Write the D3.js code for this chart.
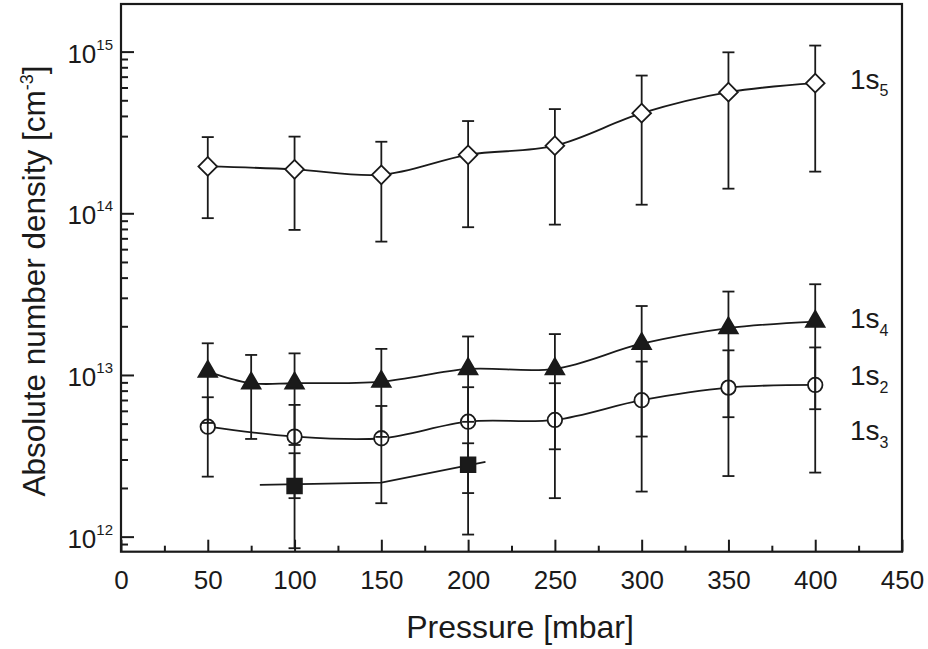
<!DOCTYPE html>
<html>
<head>
<meta charset="utf-8">
<script src="https://cdn.jsdelivr.net/npm/d3@7"></script>
<style>
  body { margin: 0; background: #fff; }
  svg { display: block; }
  text { font-family: "Liberation Sans", Arial, Helvetica, sans-serif; fill: #1a1a1a; }
</style>
</head>
<body>
<svg id="chart" width="928" height="649"></svg>
<script>
// pressure [mbar] and densities [cm^-3]
const p5 = [50, 100, 150, 200, 250, 300, 350, 400];
const n5 = [1.95e14, 1.87e14, 1.73e14, 2.30e14, 2.62e14, 4.16e14, 5.61e14, 6.38e14];
const n5Hi = [2.96e14, 2.98e14, 2.77e14, 3.72e14, 4.41e14, 7.11e14, 9.9e14, 1.09e15];
const n5Lo = [9.33e13, 7.89e13, 6.68e13, 8.20e13, 8.51e13, 1.13e14, 1.42e14, 1.81e14];

const p4 = [50, 75, 100, 150, 200, 250, 300, 350, 400];
const n4 = [1.05e13, 8.89e12, 8.89e12, 9.10e12, 1.09e13, 1.09e13, 1.56e13, 1.95e13, 2.14e13];
const n4Hi = [1.57e13, 1.33e13, 1.36e13, 1.45e13, 1.73e13, 1.79e13, 2.67e13, 3.28e13, 3.64e13];
const n4Lo = [5.05e12, 4.02e12, 3.69e12, 4.14e12, 5.13e12, 3.47e12, 4.16e12, 5.48e12, 6.14e12];

const p2 = [50, 100, 150, 200, 250, 300, 350, 400];
const n2 = [4.79e12, 4.16e12, 4.06e12, 5.14e12, 5.27e12, 6.98e12, 8.35e12, 8.68e12];
const n2Hi = [7.28e12, 6.53e12, 6.43e12, 8.40e12, 8.89e12, 1.21e13, 1.42e13, 1.48e13];
const n2Lo = [2.35e12, 1.73e12, 1.61e12, 1.86e12, 1.73e12, 1.90e12, 2.37e12, 2.49e12];

const p3 = [100, 200];
const n3 = [2.06e12, 2.78e12];
const n3Hi = [3.28e12, 3.78e12];
const n3Lo = [8.48e11, 1.03e12];
// the square series has its own guide line, wider than the points
const fit3P = [80, 150, 210];
const fit3N = [2.09e12, 2.16e12, 2.90e12];

const xTicks = [0, 50, 100, 150, 200, 250, 300, 350, 400, 450];
const xMinor = [25, 75, 125, 175, 225, 275, 325, 375, 425];
const yTicks = [1e12, 1e13, 1e14, 1e15];
const yTickExp = ["12", "13", "14", "15"];
const yMinor = [9e11, 2e12, 3e12, 4e12, 5e12, 6e12, 7e12, 8e12, 9e12,
  2e13, 3e13, 4e13, 5e13, 6e13, 7e13, 8e13, 9e13,
  3e14, 4e14, 5e14, 6e14, 7e14, 8e14, 9e14];

const labels = [
  { name: "1s", sub: "5", y: 88.8 },
  { name: "1s", sub: "4", y: 328.3 },
  { name: "1s", sub: "2", y: 385 },
  { name: "1s", sub: "3", y: 440 }
];

const ink = "#1a1a1a";
const mLeft = 121, mRight = 902, mTop = 4, mBottom = 551.7;

const svg = d3.select("#chart");

const x = d3.scaleLinear().domain([0, 450]).range([mLeft, mRight]);
const y = d3.scaleLog().domain([8.07e11, 1.97e15]).range([mBottom, mTop]);

const zip = (ps, ns, hi, lo) => ps.map((p, i) => ({ p: p, n: ns[i], hi: hi ? hi[i] : null, lo: lo ? lo[i] : null }));

const s5 = zip(p5, n5, n5Hi, n5Lo);
const s4 = zip(p4, n4, n4Hi, n4Lo);
const s2 = zip(p2, n2, n2Hi, n2Lo);
const s3 = zip(p3, n3, n3Hi, n3Lo);
const fit3 = zip(fit3P, fit3N);

// ---- axes ----
const yAxis = svg.append("g")
  .attr("transform", `translate(${mLeft},0)`)
  .call(d3.axisLeft(y).tickValues(yTicks).tickSizeInner(-13).tickSizeOuter(0).tickPadding(8).tickFormat(""));
yAxis.select(".domain").remove();
yAxis.selectAll(".tick line").attr("stroke", ink).attr("stroke-width", 2);
yAxis.selectAll(".tick text").each(function (d, i) {
  const t = d3.select(this)
    .attr("fill", ink).attr("font-size", 26).attr("dy", null)
    .attr("text-anchor", "end");
  t.append("tspan").attr("dy", "0.4em").text("10");
  t.append("tspan").attr("font-size", 15).attr("dy", -13).text(yTickExp[i]);
});

svg.append("g")
  .attr("transform", `translate(${mLeft},0)`)
  .call(d3.axisLeft(y).tickValues(yMinor).tickSizeInner(-7).tickSizeOuter(0).tickFormat(""))
  .call(g => g.select(".domain").remove())
  .selectAll(".tick line").attr("stroke", ink).attr("stroke-width", 2);

const xAxis = svg.append("g")
  .attr("transform", `translate(0,${mBottom})`)
  .call(d3.axisBottom(x).tickValues(xTicks).tickSizeInner(-12).tickSizeOuter(0).tickPadding(19).tickFormat(d3.format("d")));
xAxis.select(".domain").remove();
xAxis.selectAll(".tick line").attr("stroke", ink).attr("stroke-width", 2);
xAxis.selectAll(".tick text").attr("fill", ink).attr("font-size", 26);

svg.append("g")
  .attr("transform", `translate(0,${mBottom})`)
  .call(d3.axisBottom(x).tickValues(xMinor).tickSizeInner(-6).tickSizeOuter(0).tickFormat(""))
  .call(g => g.select(".domain").remove())
  .selectAll(".tick line").attr("stroke", ink).attr("stroke-width", 2);

// frame
svg.append("rect")
  .attr("x", mLeft).attr("y", mTop)
  .attr("width", mRight - mLeft).attr("height", mBottom - mTop)
  .attr("fill", "none").attr("stroke", ink).attr("stroke-width", 2.2);

// axis titles
svg.append("text")
  .attr("x", 520).attr("y", 638)
  .attr("text-anchor", "middle").attr("font-size", 32)
  .text("Pressure [mbar]");

const yTitle = svg.append("text")
  .attr("transform", "translate(45,281) rotate(-90)")
  .attr("text-anchor", "middle").attr("font-size", 31.5);
yTitle.append("tspan").text("Absolute number density [cm");
yTitle.append("tspan").attr("font-size", 18).attr("dy", -12).text("-3");
yTitle.append("tspan").attr("dy", 12).text("]");

// ---- data ----
const line = d3.line().x(d => x(d.p)).y(d => y(d.n)).curve(d3.curveCatmullRom.alpha(0.5));
const plot = svg.append("g");

[s5, s4, s2].forEach(s => {
  plot.append("path").attr("d", line(s))
    .attr("fill", "none").attr("stroke", ink).attr("stroke-width", 1.8);
});
plot.append("path").attr("d", d3.line().x(d => x(d.p)).y(d => y(d.n))(fit3))
  .attr("fill", "none").attr("stroke", ink).attr("stroke-width", 1.8);

function errorBars(data) {
  const g = plot.append("g").attr("stroke", ink).attr("stroke-width", 1.8);
  g.selectAll("line.v").data(data).join("line").attr("class", "v")
    .attr("x1", d => x(d.p)).attr("x2", d => x(d.p))
    .attr("y1", d => y(d.hi)).attr("y2", d => y(d.lo));
  g.selectAll("line.hi").data(data).join("line").attr("class", "hi")
    .attr("x1", d => x(d.p) - 6).attr("x2", d => x(d.p) + 6)
    .attr("y1", d => y(d.hi)).attr("y2", d => y(d.hi));
  g.selectAll("line.lo").data(data).join("line").attr("class", "lo")
    .attr("x1", d => x(d.p) - 6).attr("x2", d => x(d.p) + 6)
    .attr("y1", d => y(d.lo)).attr("y2", d => y(d.lo));
}

function markers(data, type, size, fill, rot) {
  plot.append("g").selectAll("path").data(data).join("path")
    .attr("transform", d => `translate(${x(d.p)},${y(d.n)}) rotate(${rot || 0})`)
    .attr("d", d3.symbol().type(type).size(size)())
    .attr("fill", fill).attr("stroke", ink).attr("stroke-width", 1.8);
}

// diamonds hide their own bars, the open circles let the bars show through
errorBars(s5);
markers(s5, d3.symbolSquare, 175, "#fff", 45);
markers(s2, d3.symbolCircle, 165, "#fff");
errorBars(s2);
errorBars(s4);
errorBars(s3);
markers(s4, d3.symbolTriangle, 150, ink);
markers(s3, d3.symbolSquare, 215, ink);

// series names at the right
labels.forEach(l => {
  const t = svg.append("text").attr("x", 850).attr("y", l.y).attr("font-size", 28);
  t.append("tspan").text(l.name);
  t.append("tspan").attr("font-size", 16).attr("dy", 7.5).text(l.sub);
});
</script>
</body>
</html>
